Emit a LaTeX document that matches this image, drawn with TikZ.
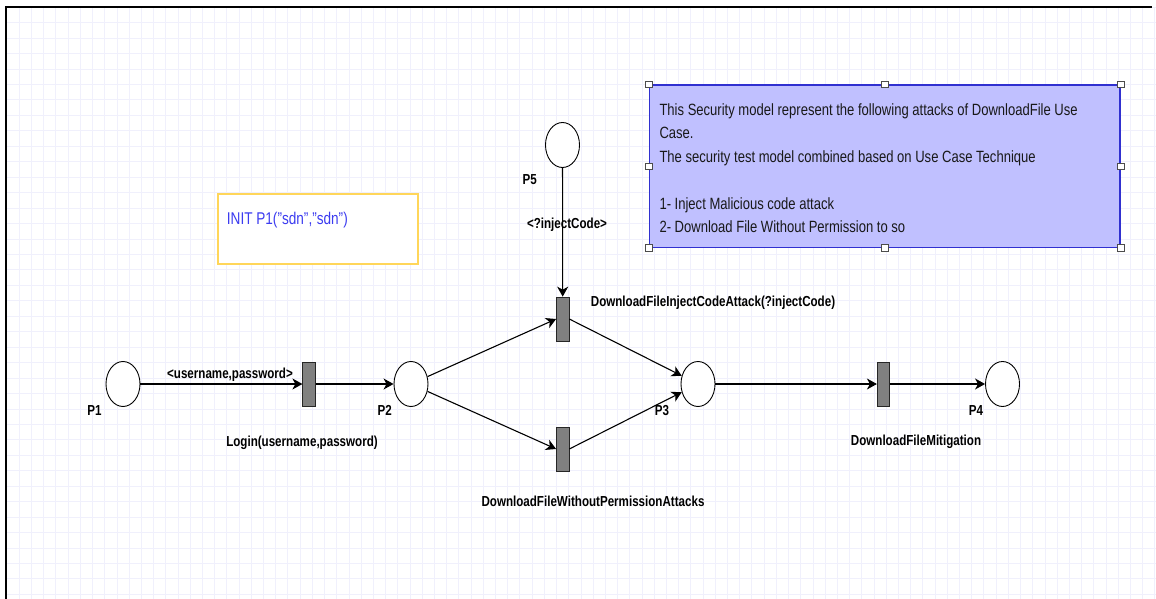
\documentclass[tikz,border=0pt]{standalone}
\usepackage{fontspec}
\setmainfont[FakeStretch=0.8]{Liberation Sans}
\usetikzlibrary{shapes.geometric,arrows.meta}
\definecolor{gridc}{RGB}{240,240,252}
\definecolor{yelb}{RGB}{255,214,90}
\definecolor{notefill}{RGB}{192,192,255}
\definecolor{notedraw}{RGB}{48,48,208}
\definecolor{inittext}{RGB}{60,60,240}
\definecolor{transfill}{RGB}{128,128,128}
\tikzset{
  place/.style={ellipse,draw=black,line width=0.9pt,fill=white,minimum width=34pt,minimum height=45pt,inner sep=0pt},
  trans/.style={rectangle,draw=black!85,line width=0.7pt,fill=transfill,minimum width=12.5pt,minimum height=44pt,inner sep=0pt},
  arc/.style={line width=1.1pt,-{Stealth[length=10pt,width=11pt,inset=3pt]}},
  lbl/.style={font=\fontsize{14.5}{17}\selectfont\bfseries,inner sep=0pt,anchor=base},
  notetxt/.style={font=\fontsize{16.3}{19}\selectfont,text=black!90,inner sep=0pt,anchor=base west},
  handle/.style={rectangle,draw=black!70,fill=white,line width=0.7pt,minimum size=6.5pt,inner sep=0pt}
}
\begin{document}
\begin{tikzpicture}[x=1pt,y=-1pt]
\useasboundingbox (0,0) rectangle (1156,599);
\fill[white] (0,0) rectangle (1156,599);
% grid
\begin{scope}
\clip (7,8) rectangle (1156,599);
\foreach \i in {0,...,94} {\draw[gridc,line width=0.9pt] (19.3+12.21*\i,0) -- (19.3+12.21*\i,599);}
\foreach \j in {-1,...,38} {\draw[gridc,line width=0.9pt] (0,22.7+15.45*\j) -- (1156,22.7+15.45*\j);}
\end{scope}
% frame
\draw[black,line width=2pt] (6,599) -- (6,7) -- (1152,7);

% INIT box
\node[draw=yelb,line width=1.4pt,fill=white,minimum width=200pt,minimum height=70pt,inner sep=0pt] (init) at (318,229) {};
\node[font=\fontsize{17}{20}\selectfont,text=inittext,inner sep=0pt,anchor=base west] (inittxt) at (226.7,224.3) {INIT P1("sdn","sdn")};

% note box
\node[draw=notedraw,line width=1.2pt,fill=notefill,minimum width=470.7pt,minimum height=162.3pt,inner sep=0pt] (note) at (884.65,166.15) {};
\node[notetxt] (n1) at (659.3,115.7) {This Security model represent the following attacks of DownloadFile Use};
\node[notetxt] (n2) at (659.3,139) {Case.};
\node[notetxt] (n3) at (659.3,162.3) {The security test model combined based on Use Case Technique};
\node[notetxt] (n4) at (659.3,209) {1- Inject Malicious code attack};
\node[notetxt] (n5) at (659.3,232.3) {2- Download File Without Permission to so};
\foreach \a [count=\k] in {north west,north,north east,east,south east,south,south west,west} {
  \node[handle] (h\k) at (note.\a) {};
}

% places
\node[place] (p1) at (123,384) {};
\node[place] (p2) at (411,384) {};
\node[place] (p3) at (698,384) {};
\node[place] (p4) at (1002.5,384) {};
\node[place] (p5) at (562.5,145) {};

% transitions
\node[trans] (t1) at (309,384) {};
\node[trans] (t2) at (562.7,319) {};
\node[trans] (t3) at (562.7,449) {};
\node[trans] (t4) at (883.5,384) {};

% arcs
\draw[arc] (p1) -- (t1.west);
\draw[arc] (t1.east) -- (p2);
\draw[arc] (p2) -- (t2.west);
\draw[arc] (p2) -- (t3.west);
\draw[arc] (t2.east) -- (p3);
\draw[arc] (t3.east) -- (p3);
\draw[arc] (p3) -- (t4.west);
\draw[arc] (t4.east) -- (p4);
\draw[arc] (p5) -- (t2.north);

% labels
\node[lbl] (lp1) at (94.5,415) {P1};
\node[lbl] (lp2) at (384.7,415) {P2};
\node[lbl] (lp3) at (662,415) {P3};
\node[lbl] (lp4) at (976,415) {P4};
\node[lbl] (lp5) at (529.7,184) {P5};
\node[lbl] (la1) at (230,378) {<username,password>};
\node[lbl] (la5) at (567,228) {<?injectCode>};
\node[lbl] (lt1) at (302,446) {Login(username,password)};
\node[lbl] (lt2) at (713,306.7) {DownloadFileInjectCodeAttack(?injectCode)};
\node[lbl] (lt3) at (593,506.7) {DownloadFileWithoutPermissionAttacks};
\node[lbl] (lt4) at (916,445.3) {DownloadFileMitigation};
\end{tikzpicture}
\end{document}
